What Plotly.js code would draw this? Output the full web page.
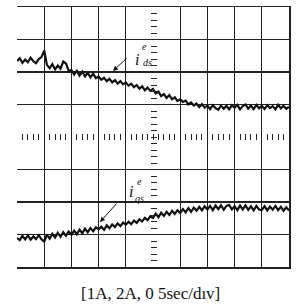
<!DOCTYPE html>
<html><head><meta charset="utf-8">
<script src="https://cdn.plot.ly/plotly-3.0.1.min.js"></script>
<style>html,body{margin:0;padding:0;background:#fff}#c{width:299px;height:307px}</style>
</head><body><div id="c"></div>
<script>
// time axis in divisions (0.5 s/div)
const divs = [0.0,0.1,0.2,0.3,0.4,0.5,0.6,0.7,0.8,0.9,
1.0,1.1,1.2,1.3,1.4,1.5,1.6,1.7,1.8,1.9,
2.0,2.1,2.2,2.3,2.4,2.5,2.6,2.7,2.8,2.9,
3.0,3.1,3.2,3.3,3.4,3.5,3.6,3.7,3.8,3.9,
4.0,4.1,4.2,4.3,4.4,4.5,4.6,4.7,4.8,4.9,
5.0,5.1,5.2,5.3,5.4,5.5,5.6,5.7,5.8,5.9,
6.0,6.1,6.2,6.3,6.4,6.5,6.6,6.7,6.8,6.9,
7.0,7.1,7.2,7.3,7.4,7.5,7.6,7.7,7.8,7.9,
8.0,8.1,8.2,8.3,8.4,8.5,8.6,8.7,8.8,8.9,
9.0,9.1,9.2,9.3,9.4,9.5,9.6,9.7,9.8,9.9,10.0];
// i_ds^e trace (screen divisions)
const ids = [2.34,2.42,2.28,2.38,2.30,2.44,2.33,2.27,2.40,2.46,
2.66,2.22,2.12,2.24,2.08,2.20,2.10,2.32,2.26,2.04,
2.06,1.92,2.04,1.89,2.01,1.86,1.98,1.84,1.95,1.81,
1.86,1.76,1.82,1.72,1.79,1.68,1.75,1.64,1.72,1.62,
1.68,1.58,1.64,1.53,1.60,1.49,1.56,1.44,1.52,1.42,
1.48,1.34,1.40,1.26,1.32,1.20,1.29,1.16,1.22,1.11,
1.16,1.08,1.12,1.00,1.06,0.97,1.03,0.92,1.01,0.90,
0.97,0.86,0.98,0.89,0.84,0.97,0.87,0.96,0.85,0.98,
0.90,0.99,0.85,0.95,1.00,0.87,0.97,0.86,0.99,0.88,
0.96,0.86,0.98,0.89,0.95,0.85,0.99,0.88,0.96,0.87,0.93];
// i_qs^e trace (screen divisions)
const iqs = [-3.10,-3.17,-3.04,-3.15,-3.03,-3.16,-3.06,-3.14,-3.02,-3.15,
-3.22,-3.00,-3.13,-2.98,-3.09,-2.95,-3.07,-2.93,-3.04,-2.91,
-3.01,-2.88,-2.99,-2.85,-2.96,-2.82,-2.93,-2.80,-2.90,-2.78,
-2.84,-2.76,-2.86,-2.72,-2.81,-2.69,-2.77,-2.66,-2.74,-2.63,
-2.70,-2.61,-2.68,-2.57,-2.64,-2.53,-2.60,-2.49,-2.56,-2.44,
-2.49,-2.36,-2.47,-2.33,-2.43,-2.30,-2.40,-2.27,-2.37,-2.25,
-2.34,-2.22,-2.32,-2.19,-2.30,-2.17,-2.27,-2.15,-2.26,-2.13,
-2.23,-2.12,-2.25,-2.11,-2.22,-2.10,-2.24,-2.12,-2.09,-2.23,
-2.13,-2.25,-2.11,-2.23,-2.10,-2.24,-2.13,-2.26,-2.12,-2.23,
-2.25,-2.13,-2.26,-2.14,-2.24,-2.12,-2.25,-2.15,-2.27,-2.16,-2.26];
const xGrid = [1,2,3,4,6,7,8,9];
const yGrid = [-3,-2,-1,1,2,3];
const caption = "[1A, 2A, 0 5sec/dıv]";

const serif = "Liberation Serif, Times New Roman, serif";
const traces = [
  {x: divs, y: ids, mode: "lines", line: {color: "#111", width: 2.2}, hoverinfo: "skip"},
  {x: divs, y: iqs, mode: "lines", line: {color: "#111", width: 2.2}, hoverinfo: "skip"},
  {x: [], y: [], xaxis: "x2", yaxis: "y3"}
];
const layout = {
  width: 299, height: 307,
  margin: {l: 17, r: 10, t: 7, b: 40},
  paper_bgcolor: "#fff", plot_bgcolor: "#fff",
  showlegend: false,
  xaxis: {range: [0, 10], tickvals: xGrid, showticklabels: false, ticks: "",
    showgrid: true, gridcolor: "#222", gridwidth: 1.3, zeroline: false,
    showline: true, linecolor: "#222", linewidth: 1.5, mirror: true, fixedrange: true},
  yaxis: {range: [-4, 4], tickvals: yGrid, showticklabels: false, ticks: "",
    showgrid: true, gridcolor: "#222", gridwidth: 1.3, zeroline: false,
    side: "right", showline: true, linecolor: "#222", linewidth: 1.5, fixedrange: true},
  xaxis2: {overlaying: "x", anchor: "free", position: 0.5 - 3/260, range: [0, 10],
    dtick: 0.2, tick0: 0, ticks: "inside", ticklen: 6, tickcolor: "#222", tickwidth: 1,
    showticklabels: false, showgrid: false, zeroline: false, showline: false},
  yaxis3: {overlaying: "y", anchor: "free", position: 0.5 - 3/272, range: [-4, 4],
    dtick: 0.2, tick0: 0, ticks: "inside", ticklen: 6, tickcolor: "#222", tickwidth: 1,
    showticklabels: false, showgrid: false, zeroline: false, showline: false},
  annotations: [
    {x: 4.41, y: 2.4, xref: "x", yref: "y", text: "<i>i</i>", showarrow: false, font: {family: serif, size: 16, color: "#111"}},
    {x: 4.67, y: 2.77, xref: "x", yref: "y", text: "<i>e</i>", showarrow: false, font: {family: serif, size: 10, color: "#111"}},
    {x: 4.8, y: 2.3, xref: "x", yref: "y", text: "<i>ds</i>", showarrow: false, font: {family: serif, size: 10, color: "#111"}},
    {x: 3.53, y: 2.03, xref: "x", yref: "y", ax: 4.08, ay: 2.46, axref: "x", ayref: "y", text: "", showarrow: true, arrowhead: 2, arrowsize: 1, arrowwidth: 1, arrowcolor: "#111"},
    {x: 4.19, y: -1.69, xref: "x", yref: "y", text: "<i>i</i>", showarrow: false, font: {family: serif, size: 16, color: "#111"}},
    {x: 4.49, y: -1.38, xref: "x", yref: "y", text: "<i>e</i>", showarrow: false, font: {family: serif, size: 10, color: "#111"}},
    {x: 4.5, y: -1.9, xref: "x", yref: "y", text: "<i>qs</i>", showarrow: false, font: {family: serif, size: 10, color: "#111"}},
    {x: 3.05, y: -2.62, xref: "x", yref: "y", ax: 3.71, ay: -2.0, axref: "x", ayref: "y", text: "", showarrow: true, arrowhead: 2, arrowsize: 1, arrowwidth: 1, arrowcolor: "#111"},
    {x: 0.489, y: 0, xref: "paper", yref: "paper", yshift: -26, yanchor: "middle", text: caption, showarrow: false, font: {family: serif, size: 17, color: "#111"}}
  ]
};
Plotly.newPlot("c", traces, layout, {staticPlot: true, displayModeBar: false});
</script></body></html>
